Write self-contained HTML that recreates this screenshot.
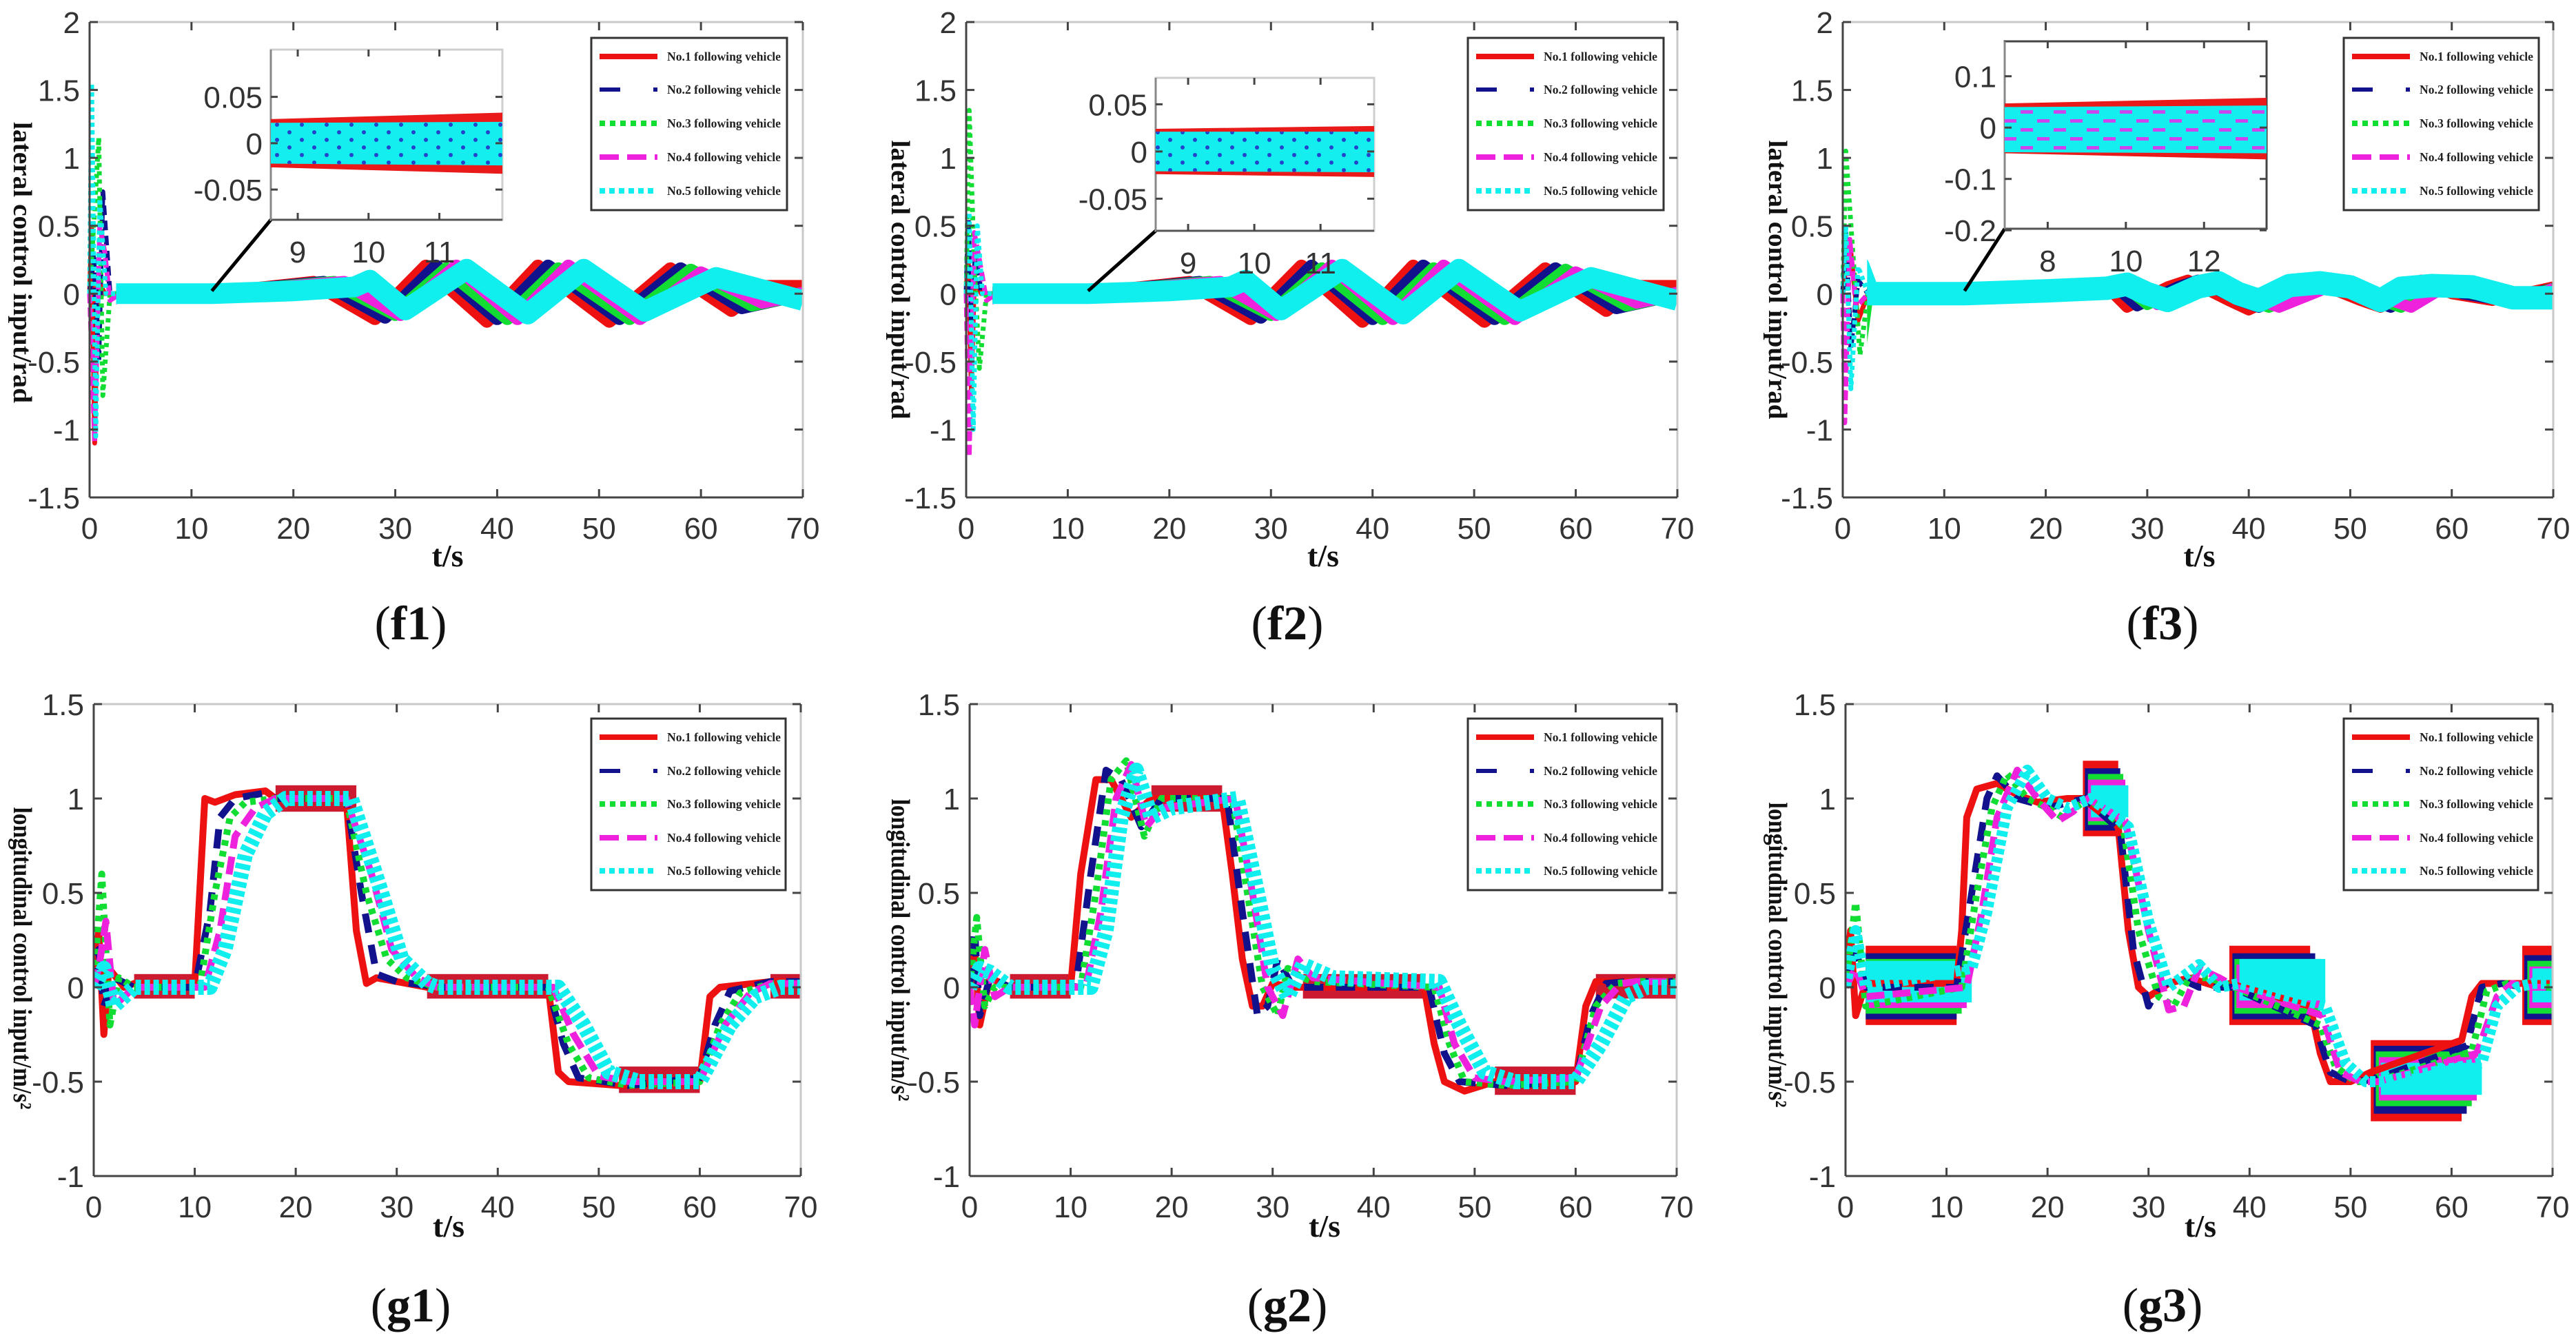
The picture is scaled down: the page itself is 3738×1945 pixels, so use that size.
<!DOCTYPE html>
<html><head><meta charset="utf-8"><style>
html,body{margin:0;padding:0;background:#fff;}
svg{display:block;}
</style></head>
<body>
<svg id="fig" width="3738" height="1945" viewBox="0 0 3738 1945" xmlns="http://www.w3.org/2000/svg">
<defs>
<pattern id="dotsBlue" width="36" height="22" patternUnits="userSpaceOnUse"><circle cx="6" cy="5" r="3" fill="#2244cc"/><circle cx="24" cy="16" r="3" fill="#2244cc"/></pattern>
<pattern id="dashMag" width="48" height="26" patternUnits="userSpaceOnUse"><rect x="4" y="4" width="18" height="5" fill="#cc44ee"/><rect x="28" y="17" width="18" height="5" fill="#cc44ee"/></pattern>
</defs>
<rect x="0" y="0" width="3738" height="1945" fill="#fff"/>
</svg>
<script>
// ---------- DATA ----------
const xTicks = [0,10,20,30,40,50,60,70];
const fYTicks = [-1.5,-1,-0.5,0,0.5,1,1.5,2];
const fYTickLabels = ['-1.5','-1','-0.5','0','0.5','1','1.5','2'];
const gYTicks = [-1,-0.5,0,0.5,1,1.5];
const gYTickLabels = ['-1','-0.5','0','0.5','1','1.5'];
const legendLabels = ['No.1 following vehicle','No.2 following vehicle','No.3 following vehicle','No.4 following vehicle','No.5 following vehicle'];

// f1
const f1RedT=[0,0.2,0.5,0.8,1.5,3,12,22,28,33,39,44,51,57,63,66,70];
const f1RedV=[0,0.5,-1.1,0.1,0,0,0,0.08,-0.18,0.2,-0.2,0.2,-0.2,0.18,-0.12,0.05,0.05];
const f1BlueT=[0,0.4,0.9,1.3,2,3,12,23,29,34,40,45,52,58,64,70];
const f1BlueV=[0,0.3,-0.5,0.75,0,0,0,0.08,-0.17,0.2,-0.18,0.2,-0.18,0.18,-0.1,0];
const f1GreenT=[0,0.4,0.9,1.3,2,3,12,24,30,35,41,46,53,59,65,70];
const f1GreenV=[0,0.5,1.15,-0.75,0,0,0,0.08,-0.15,0.18,-0.18,0.18,-0.18,0.17,-0.08,0];
const f1MagT=[0,0.5,1.0,1.5,2,3,12,25,30.5,36,42,47,54,60,66,70];
const f1MagV=[0,-1.1,0.5,0.3,-0.05,0,0,0.08,-0.15,0.2,-0.18,0.2,-0.18,0.15,-0.06,0];
const f1CyanT=[0,0.2,0.6,1.0,1.6,3,12,20,26,27.5,31,37,43,48.5,54.5,61.5,70];
const f1CyanV=[0,1.55,-1.05,0.7,0,0,0,0.02,0.05,0.1,-0.12,0.18,-0.15,0.18,-0.13,0.12,-0.05];
// f2
const f2RedT=[0,0.2,0.5,0.8,1.5,3,12,22,28,33,39,44,51,57,63,66,70];
const f2RedV=[0,0.3,-0.7,0.1,0,0,0,0.08,-0.18,0.2,-0.2,0.2,-0.2,0.18,-0.12,0.05,0.05];
const f2BlueT=[0,0.2,0.5,0.9,1.5,3,12,23,29,34,40,45,52,58,64,70];
const f2BlueV=[0,0.55,-0.2,0.3,0,0,0,0.08,-0.17,0.2,-0.18,0.2,-0.18,0.18,-0.1,0];
const f2GreenT=[0,0.3,0.8,1.3,2,3,12,24,30,35,41,46,53,59,65,70];
const f2GreenV=[0,1.35,0.2,-0.55,0,0,0,0.08,-0.15,0.18,-0.18,0.18,-0.18,0.17,-0.08,0];
const f2MagT=[0,0.3,0.8,1.3,2,3,12,25,30.5,36,42,47,54,60,66,70];
const f2MagV=[0,-1.2,0.45,0.25,-0.05,0,0,0.08,-0.15,0.2,-0.18,0.2,-0.18,0.15,-0.06,0];
const f2CyanT=[0,0.3,0.7,1.1,1.6,3,12,20,26,27.5,31,37,43,48.5,54.5,61.5,70];
const f2CyanV=[0,0.6,-1.0,0.5,0,0,0,0.02,0.05,0.1,-0.12,0.18,-0.15,0.18,-0.13,0.12,-0.05];
// f3
const f3RedT=[0,0.3,0.8,1.5,2.5,12,22,26,28,32,34,38,40,44,46,51,53,57,60,64,70];
const f3RedV=[0,0.2,0.3,-0.2,0,0,0.06,0.05,-0.1,0.05,0.1,-0.05,-0.12,0.02,0.1,-0.05,-0.1,0.1,0,-0.05,0.05];
const f3BlueT=[0,0.3,0.8,1.5,2.5,12,23,27,29,33,35,39,41,45,47,52,54,58,61,65,70];
const f3BlueV=[0,0.45,-0.4,0.1,0,0,0.05,0.04,-0.09,0.05,0.1,-0.05,-0.1,0.02,0.1,-0.05,-0.1,0.08,0,-0.05,0.04];
const f3GreenT=[0,0.3,0.9,1.7,2.5,12,24,28,30,34,36,40,42,46,48,53,55,59,62,66,70];
const f3GreenV=[0,1.05,0.4,-0.45,0,0,0.05,0.04,-0.08,0.05,0.1,-0.05,-0.1,0.02,0.1,-0.05,-0.1,0.08,0,-0.05,0.04];
const f3MagT=[0,0.2,0.7,1.3,2.5,12,25,29,31,35,37,41,43,47,49,54,56,60,63,67,70];
const f3MagV=[0,-0.95,0.4,-0.1,0,0,0.05,0.04,-0.08,0.05,0.1,-0.05,-0.1,0.02,0.1,-0.05,-0.1,0.08,0,-0.05,0.04];
const f3CyanT=[0,0.3,0.8,1.5,2.5,12,20,26,28,30,32,35,37,39,41,44,47,50,53,55,58,62,66,70];
const f3CyanV=[0,0.5,-0.7,0.2,0,0,0.02,0.04,0.07,0.0,-0.05,0.05,0.08,0.0,-0.05,0.06,0.08,0.05,-0.05,0.04,0.06,0.05,-0.03,-0.03];

// g1
const g1RedT=[0,0.5,1,1.5,3,4,10,11,12,14,17,18,25,26,27,28,33,34,45,46,47,52,60,61,62,67,70];
const g1RedV=[0,0.3,-0.25,0.1,0,0.02,0.02,1,0.98,1.02,1.04,1.0,1.0,0.3,0.02,0.05,0.0,0,0,-0.45,-0.5,-0.52,-0.5,-0.05,0,0.03,0.03];
const g1BlueT=[0,0.5,1,2,4,10,11.5,12.5,14,17,18,25,26.5,28,30,33,34,45,46.5,48,53,60,61.5,63,67,70];
const g1BlueV=[0,0.2,-0.1,0.05,0,0,0.4,0.9,1.0,1.03,1.0,1.0,0.5,0.07,0.03,0.01,0,0,-0.3,-0.48,-0.52,-0.48,-0.2,-0.02,0.03,0.03];
const g1GreenT=[0,0.8,1.6,2.5,4,10.5,12,13.5,15,18,25,27,29,31,34,45,47,49,53,60,62,64,67,70];
const g1GreenV=[0,0.6,-0.2,0.05,0,0,0.5,0.9,0.98,1.0,1.0,0.5,0.15,0.05,0,0,-0.3,-0.48,-0.52,-0.5,-0.2,-0.03,0.02,0.02];
const g1MagT=[0,0.5,1.2,2,4,11,12.5,14,16,18,25,27.5,29.5,32,34,45.5,47.5,50,53,60,62.5,65,67,70];
const g1MagV=[0,0.1,0.35,-0.1,0,0,0.3,0.8,0.95,1.0,1.0,0.6,0.2,0.05,0,0,-0.25,-0.47,-0.5,-0.5,-0.2,-0.03,0.02,0.02];
const g1CyanT=[0,1,2,4,11.5,13,15,17,19,25.5,28.5,30.5,33,34,46,48.5,51,54,60,63,65.5,68,70];
const g1CyanV=[0,0.1,-0.1,0,0,0.2,0.7,0.92,1.0,1.0,0.5,0.15,0.02,0,0,-0.2,-0.45,-0.5,-0.5,-0.2,-0.05,0,0];
const g1BandT0=[4,18,33,52,67];
const g1BandT1=[10,26,45,60,70];
const g1BandLo=[-0.06,0.93,-0.06,-0.56,-0.06];
const g1BandHi=[0.07,1.07,0.07,-0.42,0.07];
// g2
const g2RedT=[0,0.5,1,2,4,10,11,12.5,14,16,18,25,26,27,28,29,30,32,45,46,47,49,52,60,61,62,64,70];
const g2RedV=[0,0.2,-0.2,0.05,0,0,0.6,1.1,1.1,0.9,1.0,1.0,0.6,0.15,-0.1,-0.1,0.02,0,0,-0.3,-0.5,-0.55,-0.5,-0.5,-0.1,0.03,0.03,0.03];
const g2BlueT=[0,0.5,1,2,4,10.5,12,13.5,15,17,19,25.5,27,28.5,29.5,30.5,32,45.5,47,48.5,53,60,61.5,63,65,70];
const g2BlueV=[0,0.3,-0.15,0.05,0,0,0.6,1.15,1.1,0.85,1.0,1.0,0.4,-0.15,-0.1,0.15,0,0,-0.35,-0.5,-0.52,-0.5,-0.15,0.02,0.03,0.03];
const g2GreenT=[0,0.7,1.5,2.5,4,11,12.5,14,15.5,17.3,19,26,27.5,29,30.5,31.5,33,34,46,47.5,49,53,60,62,64,66,70];
const g2GreenV=[0,0.37,-0.1,0,0,0,0.5,1.1,1.2,0.8,1.0,1.0,0.5,0,-0.15,0.1,0.05,0.03,0,-0.3,-0.5,-0.52,-0.5,-0.1,0.02,0.03,0.03];
const g2MagT=[0,0.5,1.5,2.5,4,11.5,13,14.5,16,17.5,19,26.3,28,29.5,31,32.5,34,46.5,48,50,53,60,62.5,64.5,66,70];
const g2MagV=[0,-0.2,0.2,-0.05,0,0,0.4,1.0,1.18,0.85,0.95,1.0,0.5,0,-0.15,0.15,0.05,0,-0.3,-0.48,-0.5,-0.48,-0.1,0.02,0.03,0.03];
const g2CyanT=[0,1,2,4,12,13.5,15,16.5,18,20,26.5,28.5,30,31.5,33,36,46.5,48.5,51,54,60,62.5,65,67,70];
const g2CyanV=[0,0.1,0.08,0,0,0.3,0.9,1.15,0.9,0.95,1.0,0.5,0.1,-0.05,0.12,0.05,0.03,-0.2,-0.45,-0.5,-0.5,-0.3,-0.05,0,0];
const g2BandT0=[4,18,33,52,62];
const g2BandT1=[10,25,45,60,70];
const g2BandLo=[-0.06,0.93,-0.06,-0.57,-0.06];
const g2BandHi=[0.07,1.07,0.07,-0.42,0.07];
// g3
const g3RedT=[0,0.5,1,2,11,11.5,12,13,15,17,19,22,23.5,27,28,29,30,32,34,37,38,46,47,48,50,52,61,62,63,64,66,67,70];
const g3RedV=[0,0.3,-0.15,0.02,0.02,0.3,0.9,1.05,1.08,1.02,0.98,1.0,1.0,0.85,0.3,0.0,-0.05,0.02,0.05,0.0,0.02,-0.1,-0.35,-0.5,-0.5,-0.45,-0.28,-0.05,0.02,0.02,0.02,0.02,0.02];
const g3BlueT=[0,1,2,11,12.5,14,15,17,19,20,23.7,27.2,28.5,30,31,33,35,38.3,46.5,48,50,52.3,61.5,63,65,67.2,70];
const g3BlueV=[0,0.2,0,0,0.5,1.0,1.12,1.0,0.97,0.95,1.0,0.83,0.2,-0.1,0,0.05,0,0,-0.2,-0.45,-0.5,-0.49,-0.31,0.0,0.02,0,0];
const g3GreenT=[0,1,2,11.5,13,14.5,16,18,20,21.5,24,27.5,29,31,32.5,34,36,38.5,47,48.5,50.5,52.5,62,63.5,65.5,67.5,70];
const g3GreenV=[0,0.45,-0.1,0,0.5,0.95,1.13,1.0,0.95,0.9,1.0,0.85,0.3,-0.05,-0.1,0.05,0.05,0,-0.2,-0.42,-0.5,-0.5,-0.34,-0.02,0.02,0,0];
const g3MagT=[0,1,2,12,13.5,15,17,19,21,22.5,24,27.7,30,32,33.5,35,37,38.7,47.2,49,51,52.8,62.5,64.5,66,67.7,70];
const g3MagV=[0,0.1,-0.05,0,0.4,0.9,1.15,1.0,0.88,0.93,1.0,0.88,0.3,-0.12,-0.1,0.1,0.05,0,-0.15,-0.45,-0.5,-0.5,-0.35,-0.05,0.02,0,0];
const g3CyanT=[0,1,2,12.5,14,16,18,20,22,24.3,28,30,32,35,37,39,47.5,49.5,51.5,53,63,64.5,66.5,68,70];
const g3CyanV=[0,0.3,0,0.1,0.4,0.95,1.15,1.0,0.95,1.0,0.85,0.35,0,0.12,0.0,0.02,-0.1,-0.4,-0.5,-0.5,-0.4,-0.1,0.0,0.02,0.02];
const g3RedBandT0=[2,23.5,38,52,67], g3RedBandT1=[11,27,46,61,70], g3RedBandLo=[-0.2,0.8,-0.2,-0.71,-0.2], g3RedBandHi=[0.22,1.2,0.22,-0.28,0.22];
const g3BlueBandT0=[2,23.7,38.3,52.3,67.2], g3BlueBandT1=[11,27.2,46.5,61.5,70], g3BlueBandLo=[-0.17,0.83,-0.17,-0.67,-0.17], g3BlueBandHi=[0.18,1.16,0.18,-0.31,0.17];
const g3GreenBandT0=[2,24,38.5,52.5,67.5], g3GreenBandT1=[11.5,27.5,47,62,70], g3GreenBandLo=[-0.14,0.86,-0.14,-0.63,-0.14], g3GreenBandHi=[0.15,1.13,0.15,-0.34,0.14];
const g3MagBandT0=[2,24,38.7,52.8,67.7], g3MagBandT1=[12,27.7,47.2,62.5,70], g3MagBandLo=[-0.11,0.88,-0.11,-0.6,-0.11], g3MagBandHi=[0.12,1.1,0.12,-0.37,0.11];
const g3CyanBandT0=[2,24.3,39,53,68], g3CyanBandT1=[12.5,28,47.5,63,70], g3CyanBandLo=[-0.08,0.9,-0.07,-0.57,-0.08], g3CyanBandHi=[0.14,1.07,0.15,-0.4,0.1];

// insets
const f1InsetT=[8.62,11.89], f1InsetRedHi=[0.026,0.033], f1InsetRedLo=[-0.026,-0.033], f1InsetCyanHi=[0.022,0.023], f1InsetCyanLo=[-0.022,-0.024];
const f1InsetTicksX=[9,10,11], f1InsetTicksY=[0.05,0,-0.05], f1InsetLabY=['0.05','0','-0.05'];
const f2InsetT=[8.51,11.81], f2InsetRedHi=[0.024,0.027], f2InsetRedLo=[-0.024,-0.027], f2InsetCyanHi=[0.021,0.021], f2InsetCyanLo=[-0.021,-0.022];
const f2InsetTicksX=[9,10,11], f2InsetTicksY=[0.05,0,-0.05], f2InsetLabY=['0.05','0','-0.05'];
const f3InsetT=[6.9,13.6], f3InsetRedHi=[0.047,0.058], f3InsetRedLo=[-0.05,-0.062], f3InsetCyanHi=[0.04,0.043], f3InsetCyanLo=[-0.048,-0.05];
const f3InsetTicksX=[8,10,12], f3InsetTicksY=[0.1,0,-0.1,-0.2], f3InsetLabY=['0.1','0','-0.1','-0.2'];

// ---------- DRAWING ----------
const NS='http://www.w3.org/2000/svg';
const svg=document.getElementById('fig');
function mk(tag, parent){ const e=document.createElementNS(NS,tag); parent.appendChild(e); return e; }
function sa(e, o){ for(const k in o) e.setAttribute(k,o[k]); return e; }
const COLORS=['#ee1111','#12128c','#11dd33','#ee22dd','#11eeee'];
const SERIES_NAMES=['red','blue','green','magenta','cyan'];

function panel(P){
  const g=mk('g',svg);
  
  
  const sx=t=>P.x0+(t/70)*(P.x1-P.x0);
  const sy=v=>P.y1-(v-P.ymin)/(P.ymax-P.ymin)*(P.y1-P.y0);
  const clip=mk('clipPath',g); sa(clip,{id:P.id+'clip'});
  sa(mk('rect',clip),{x:P.x0,y:P.y0,width:P.x1-P.x0,height:P.y1-P.y0});
  const splitX = P.splitT!=null ? sx(P.splitT) : P.x0;
  const clipL=mk('clipPath',g); sa(clipL,{id:P.id+'clipL'});
  sa(mk('rect',clipL),{x:P.x0-20,y:P.y0-20,width:splitX-P.x0+20,height:P.y1-P.y0+40});
  const clipR=mk('clipPath',g); sa(clipR,{id:P.id+'clipR'});
  sa(mk('rect',clipR),{x:splitX,y:P.y0,width:P.x1-splitX,height:P.y1-P.y0});
  const plot=mk('g',g);
  
  
  const plotC=mk('g',plot); sa(plotC,{'clip-path':'url(#'+P.id+'clip)'});
  // bands
  (P.bands||[]).forEach(b=>{
    for(let i=0;i<b.t0.length;i++){
      const r=mk('rect',plotC);
      sa(r,{x:sx(b.t0[i]),y:sy(b.hi[i]),width:sx(b.t1[i])-sx(b.t0[i]),height:sy(b.lo[i])-sy(b.hi[i]),fill:b.color});
      
      
    }
  });
  // series
  P.series.forEach((s,k)=>{
    let d='';
    for(let i=0;i<s.t.length;i++) d+=(i?'L':'M')+sx(s.t[i]).toFixed(1)+','+sy(s.v[i]).toFixed(1);
    if(P.splitT!=null){
      const pt=mk('path',plot);
      sa(pt,{d:d,fill:'none',stroke:COLORS[k],'stroke-width':P.thinW,'stroke-linejoin':'round','clip-path':'url(#'+P.id+'clipL)'});
      if(P.thinDash && P.thinDash[k]) pt.setAttribute('stroke-dasharray',P.thinDash[k]);
      
      
    }
    const p=mk('path',plot);
    sa(p,{d:d,fill:'none',stroke:COLORS[k],'stroke-width':P.widths[k],'stroke-linejoin':'round','stroke-linecap':'butt','clip-path':'url(#'+P.id+(P.splitT!=null?'clipR':'clip')+')'});
    if(P.dashes && P.dashes[k]) p.setAttribute('stroke-dasharray',P.dashes[k]);
    
    
  });
  // frame
  const fr=mk('g',g);
  
  
  sa(mk('line',fr),{x1:P.x0,y1:P.y0,x2:P.x1,y2:P.y0,stroke:'#c8c8c8','stroke-width':3});
  sa(mk('line',fr),{x1:P.x1,y1:P.y0,x2:P.x1,y2:P.y1,stroke:'#c8c8c8','stroke-width':3});
  sa(mk('line',fr),{x1:P.x0,y1:P.y0,x2:P.x0,y2:P.y1,stroke:'#444','stroke-width':3});
  sa(mk('line',fr),{x1:P.x0,y1:P.y1,x2:P.x1,y2:P.y1,stroke:'#444','stroke-width':3});
  xTicks.forEach(t=>{
    const x=sx(t);
    sa(mk('line',fr),{x1:x,y1:P.y1,x2:x,y2:P.y1-12,stroke:'#444','stroke-width':3});
    sa(mk('line',fr),{x1:x,y1:P.y0,x2:x,y2:P.y0+12,stroke:'#444','stroke-width':3});
    const tx=mk('text',g);
    sa(tx,{x:x,y:P.y1+60,'text-anchor':'middle','font-size':44,'font-family':'"Liberation Sans Narrow","Liberation Sans",sans-serif',fill:'#333'});
    tx.textContent=String(t);
    
    
  });
  P.yTicks.forEach((v,i)=>{
    const y=sy(v);
    sa(mk('line',fr),{x1:P.x0,y1:y,x2:P.x0+12,y2:y,stroke:'#444','stroke-width':3});
    sa(mk('line',fr),{x1:P.x1,y1:y,x2:P.x1-12,y2:y,stroke:'#444','stroke-width':3});
    const tx=mk('text',g);
    sa(tx,{x:P.x0-14,y:y+16,'text-anchor':'end','font-size':44,'font-family':'"Liberation Sans Narrow","Liberation Sans",sans-serif',fill:'#333'});
    tx.textContent=P.yLabels[i];
    
    
  });
  // x label
  const xl=mk('text',g);
  sa(xl,{x:(P.x0+P.x1)/2+2,y:P.xlabY,'text-anchor':'middle','font-size':46,'font-weight':'bold','font-family':'"Liberation Serif",serif',fill:'#111'});
  xl.textContent='t/s';
  
  
  // y label
  const yl=mk('text',g);
  sa(yl,{x:P.ylabX,y:P.ylabY,'text-anchor':'middle','dominant-baseline':'central','font-size':38,'font-weight':'bold','font-family':'"Liberation Serif",serif',fill:'#111',transform:'rotate(90 '+P.ylabX+' '+P.ylabY+')',textLength:P.ylabLen,lengthAdjust:'spacingAndGlyphs'});
  yl.textContent=P.ylab;
  
  
  // caption
  const cp=mk('text',g);
  sa(cp,{x:P.capX,y:P.capY,'text-anchor':'middle','font-size':70,'font-family':'"Liberation Serif",serif',fill:'#111'});
  cp.innerHTML='(<tspan font-weight="bold">'+P.cap+'</tspan>)';
  
  
  // inset
  if(P.inset){
    const I=P.inset;
    const ig=mk('g',g);
    
    
    const ix=t=>I.x0+(t-I.tmin)/(I.tmax-I.tmin)*(I.x1-I.x0);
    const iy=v=>I.y1-(v-I.vmin)/(I.vmax-I.vmin)*(I.y1-I.y0);
    const cl=mk('line',ig);
    sa(cl,{x1:sx(12),y1:sy(0)-4,x2:I.x0,y2:I.y1,stroke:'#000','stroke-width':5});
    
    
    sa(mk('rect',ig),{x:I.x0,y:I.y0,width:I.x1-I.x0,height:I.y1-I.y0,fill:'#fff',stroke:I.frame,'stroke-width':3});
    sa(mk('line',ig),{x1:I.x0,y1:I.y1,x2:I.x1,y2:I.y1,stroke:'#555','stroke-width':3});
    sa(mk('line',ig),{x1:I.x0,y1:I.y0,x2:I.x0,y2:I.y1,stroke:'#888','stroke-width':3});
    const band=(hi,lo,fill,name)=>{
      const pts=[ix(I.t[0])+','+iy(hi[0]),ix(I.t[1])+','+iy(hi[1]),ix(I.t[1])+','+iy(lo[1]),ix(I.t[0])+','+iy(lo[0])].join(' ');
      const pg=mk('polygon',ig); sa(pg,{points:pts,fill:fill});
      
      
    };
    band(I.redHi,I.redLo,'#e81a1a','red');
    band(I.cyanHi,I.cyanLo,'#14eeee','cyan');
    band(I.cyanHi,I.cyanLo,I.pattern,'pattern');
    I.ticksX.forEach(t=>{
      sa(mk('line',ig),{x1:ix(t),y1:I.y1,x2:ix(t),y2:I.y1-10,stroke:'#444','stroke-width':3});
      sa(mk('line',ig),{x1:ix(t),y1:I.y0,x2:ix(t),y2:I.y0+10,stroke:'#444','stroke-width':3});
      const tx=mk('text',ig);
      sa(tx,{x:ix(t),y:I.y1+62,'text-anchor':'middle','font-size':44,'font-family':'"Liberation Sans Narrow","Liberation Sans",sans-serif',fill:'#333'});
      tx.textContent=String(t);
      
      
    });
    I.ticksY.forEach((v,i)=>{
      sa(mk('line',ig),{x1:I.x0,y1:iy(v),x2:I.x0+10,y2:iy(v),stroke:'#444','stroke-width':3});
      sa(mk('line',ig),{x1:I.x1,y1:iy(v),x2:I.x1-10,y2:iy(v),stroke:'#444','stroke-width':3});
      const tx=mk('text',ig);
      sa(tx,{x:I.x0-12,y:iy(v)+16,'text-anchor':'end','font-size':44,'font-family':'"Liberation Sans Narrow","Liberation Sans",sans-serif',fill:'#333'});
      tx.textContent=I.labY[i];
      
      
    });
  }
  // legend
  const L=P.legend;
  const lg=mk('g',g);
  
  
  sa(mk('rect',lg),{x:L.x0,y:L.y0,width:L.x1-L.x0,height:L.y1-L.y0,fill:'#fff',stroke:'#333','stroke-width':3});
  const ldash=['', '30,48', '8,7', '28,12', '8,6'];
  legendLabels.forEach((lab,k)=>{
    const y=L.y0+L.dy[k];
    const ln=mk('line',lg);
    sa(ln,{x1:L.x0+12,y1:y,x2:L.x0+96,y2:y,stroke:COLORS[k],'stroke-width':k==1?6:8});
    if(ldash[k]) ln.setAttribute('stroke-dasharray',ldash[k]);
    
    
    const tx=mk('text',lg);
    sa(tx,{x:L.x0+110,y:y+6,'font-size':18,'font-weight':'bold','font-family':'"Liberation Serif",serif',fill:'#222',textLength:165,lengthAdjust:'spacingAndGlyphs'});
    tx.textContent=lab;
    
    
  });
}

const fDy=[27,75,124,173,222];
const gDy=[27,76,124,173,221];
const fW=[20,20,20,20,30];
const gW=[10,10,10,10,16];
const gD=['', '28,18', '8,8', '26,12', '8,5'];
const fThinDash=['', '14,8', '6,6', '14,6', '6,5'];

panel({id:'f1',x0:130,x1:1165,y0:32,y1:722,ymin:-1.5,ymax:2,yTicks:fYTicks,yLabels:fYTickLabels,splitT:2.6,thinW:7,thinDash:fThinDash,
  series:[{t:f1RedT,v:f1RedV},{t:f1BlueT,v:f1BlueV},{t:f1GreenT,v:f1GreenV},{t:f1MagT,v:f1MagV},{t:f1CyanT,v:f1CyanV}],
  widths:fW,xlabY:822,ylab:'lateral control input/rad',ylabX:32,ylabY:381,ylabLen:408,cap:'f1',capX:596,capY:928,
  legend:{x0:858,x1:1142,y0:55,y1:305,dy:fDy},
  inset:{x0:393,x1:729,y0:72,y1:319,tmin:f1InsetT[0],tmax:f1InsetT[1],vmin:-0.0826,vmax:0.101,t:f1InsetT,redHi:f1InsetRedHi,redLo:f1InsetRedLo,cyanHi:f1InsetCyanHi,cyanLo:f1InsetCyanLo,ticksX:f1InsetTicksX,ticksY:f1InsetTicksY,labY:f1InsetLabY,pattern:'url(#dotsBlue)',frame:'#cfcfcf'}});
panel({id:'f2',x0:1402,x1:2434,y0:32,y1:722,ymin:-1.5,ymax:2,yTicks:fYTicks,yLabels:fYTickLabels,splitT:2.6,thinW:7,thinDash:fThinDash,
  series:[{t:f2RedT,v:f2RedV},{t:f2BlueT,v:f2BlueV},{t:f2GreenT,v:f2GreenV},{t:f2MagT,v:f2MagV},{t:f2CyanT,v:f2CyanV}],
  widths:fW,xlabY:822,ylab:'lateral control input/rad',ylabX:1306,ylabY:406,ylabLen:405,cap:'f2',capX:1868,capY:928,
  legend:{x0:2130,x1:2414,y0:55,y1:305,dy:fDy},
  inset:{x0:1677,x1:1994,y0:113,y1:335,tmin:f2InsetT[0],tmax:f2InsetT[1],vmin:-0.084,vmax:0.078,t:f2InsetT,redHi:f2InsetRedHi,redLo:f2InsetRedLo,cyanHi:f2InsetCyanHi,cyanLo:f2InsetCyanLo,ticksX:f2InsetTicksX,ticksY:f2InsetTicksY,labY:f2InsetLabY,pattern:'url(#dotsBlue)',frame:'#cfcfcf'}});
panel({id:'f3',x0:2674,x1:3705,y0:32,y1:722,ymin:-1.5,ymax:2,yTicks:fYTicks,yLabels:fYTickLabels,splitT:2.4,thinW:7,thinDash:fThinDash,
  series:[{t:f3RedT,v:f3RedV},{t:f3BlueT,v:f3BlueV},{t:f3GreenT,v:f3GreenV},{t:f3MagT,v:f3MagV},{t:f3CyanT,v:f3CyanV}],
  widths:[16,16,16,16,34],xlabY:822,ylab:'lateral control input/rad',ylabX:2579,ylabY:406,ylabLen:405,cap:'f3',capX:3138,capY:928,
  legend:{x0:3401,x1:3684,y0:55,y1:305,dy:fDy},
  inset:{x0:2909,x1:3289,y0:60,y1:332,tmin:f3InsetT[0],tmax:f3InsetT[1],vmin:-0.197,vmax:0.168,t:f3InsetT,redHi:f3InsetRedHi,redLo:f3InsetRedLo,cyanHi:f3InsetCyanHi,cyanLo:f3InsetCyanLo,ticksX:f3InsetTicksX,ticksY:f3InsetTicksY,labY:f3InsetLabY,pattern:'url(#dashMag)',frame:'#444'}});

panel({id:'g1',x0:136,x1:1162,y0:1022,y1:1707,ymin:-1,ymax:1.5,yTicks:gYTicks,yLabels:gYTickLabels,
  series:[{t:g1RedT,v:g1RedV},{t:g1BlueT,v:g1BlueV},{t:g1GreenT,v:g1GreenV},{t:g1MagT,v:g1MagV},{t:g1CyanT,v:g1CyanV}],
  bands:[{name:'red',color:'#cc1a30',t0:g1BandT0,t1:g1BandT1,lo:g1BandLo,hi:g1BandHi}],
  widths:[10,10,10,10,22],dashes:gD,xlabY:1795,ylab:'longitudinal control input/m/s²',ylabX:32,ylabY:1391,ylabLen:439,cap:'g1',capX:596,capY:1918,
  legend:{x0:858,x1:1140,y0:1043,y1:1292,dy:gDy}});
panel({id:'g2',x0:1407,x1:2433,y0:1022,y1:1707,ymin:-1,ymax:1.5,yTicks:gYTicks,yLabels:gYTickLabels,
  series:[{t:g2RedT,v:g2RedV},{t:g2BlueT,v:g2BlueV},{t:g2GreenT,v:g2GreenV},{t:g2MagT,v:g2MagV},{t:g2CyanT,v:g2CyanV}],
  bands:[{name:'red',color:'#cc1a30',t0:g2BandT0,t1:g2BandT1,lo:g2BandLo,hi:g2BandHi}],
  widths:[10,10,10,10,22],dashes:gD,xlabY:1795,ylab:'longitudinal control input/m/s²',ylabX:1306,ylabY:1379,ylabLen:439,cap:'g2',capX:1868,capY:1918,
  legend:{x0:2130,x1:2412,y0:1043,y1:1292,dy:gDy}});
panel({id:'g3',x0:2678,x1:3704,y0:1022,y1:1707,ymin:-1,ymax:1.5,yTicks:gYTicks,yLabels:gYTickLabels,
  series:[{t:g3RedT,v:g3RedV},{t:g3BlueT,v:g3BlueV},{t:g3GreenT,v:g3GreenV},{t:g3MagT,v:g3MagV},{t:g3CyanT,v:g3CyanV}],
  bands:[{name:'red',color:'#ee1111',t0:g3RedBandT0,t1:g3RedBandT1,lo:g3RedBandLo,hi:g3RedBandHi},
         {name:'blue',color:'#12128c',t0:g3BlueBandT0,t1:g3BlueBandT1,lo:g3BlueBandLo,hi:g3BlueBandHi},
         {name:'green',color:'#11dd33',t0:g3GreenBandT0,t1:g3GreenBandT1,lo:g3GreenBandLo,hi:g3GreenBandHi},
         {name:'magenta',color:'#ee22dd',t0:g3MagBandT0,t1:g3MagBandT1,lo:g3MagBandLo,hi:g3MagBandHi},
         {name:'cyan',color:'#11eeee',t0:g3CyanBandT0,t1:g3CyanBandT1,lo:g3CyanBandLo,hi:g3CyanBandHi}],
  widths:gW,dashes:gD,xlabY:1795,ylab:'longitudinal control input/m/s²',ylabX:2579,ylabY:1386,ylabLen:443,cap:'g3',capX:3138,capY:1918,
  legend:{x0:3401,x1:3683,y0:1043,y1:1292,dy:gDy}});
</script>
</body></html>
